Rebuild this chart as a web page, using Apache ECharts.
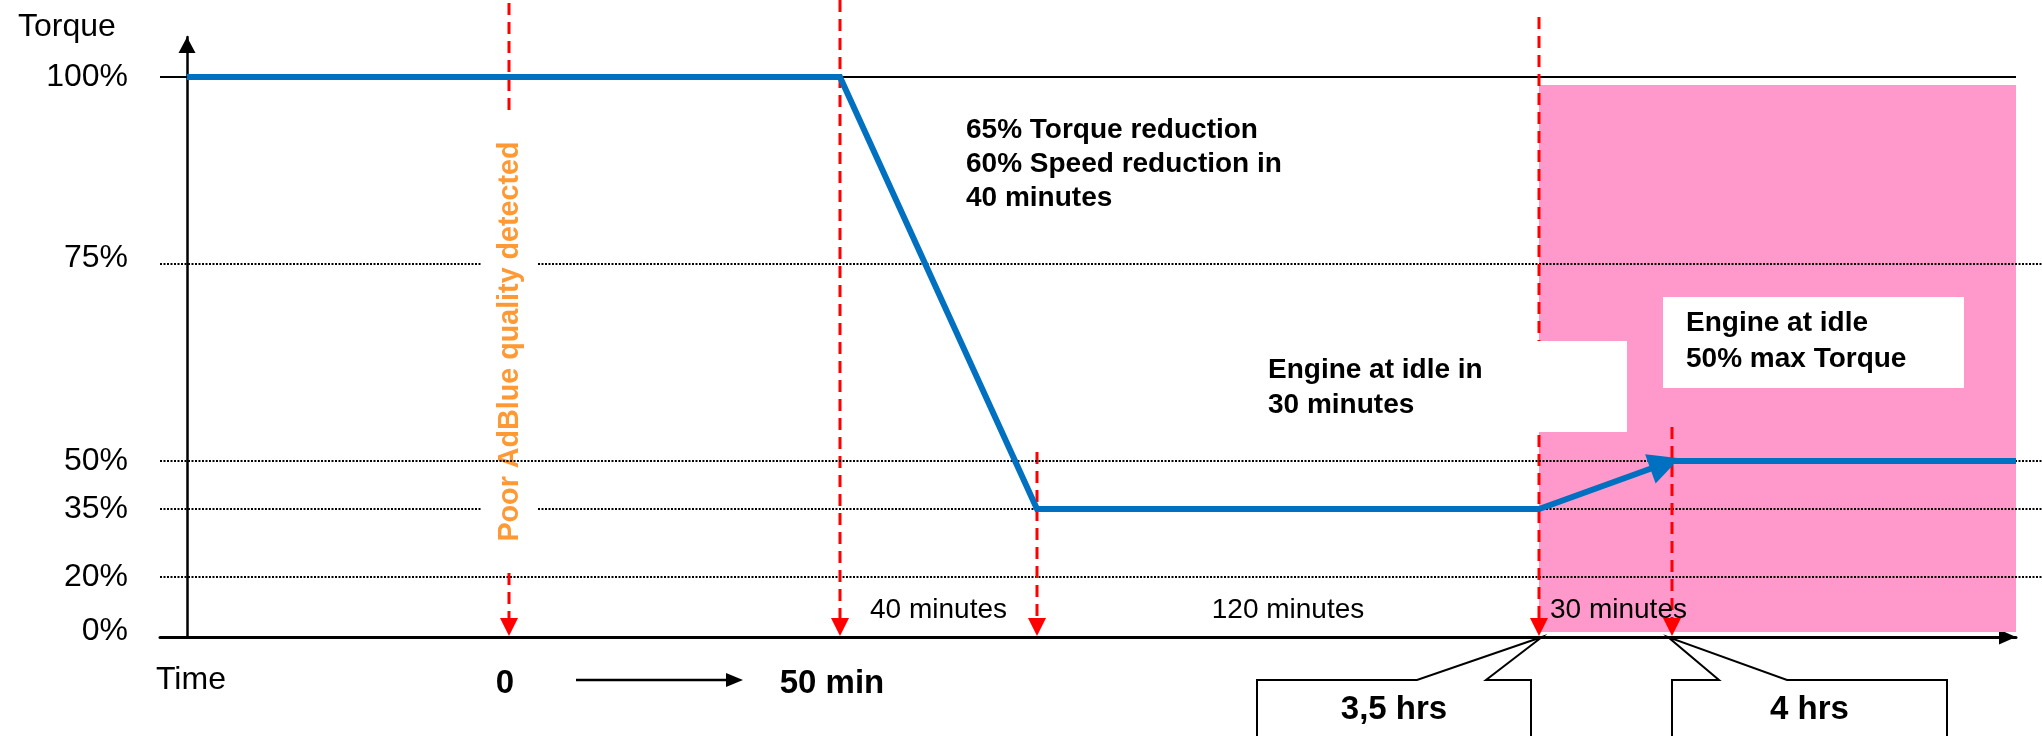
<!DOCTYPE html>
<html>
<head>
<meta charset="utf-8">
<script src="https://cdn.jsdelivr.net/npm/echarts@6/dist/echarts.min.js"></script>
<style>
html,body{margin:0;padding:0;background:#fff;}
#c{width:2042px;height:736px;}
</style>
</head>
<body>
<div id="c"></div>
<script>
// ================= DATA =================
// Torque profile (time in minutes after poor AdBlue detection, torque in % of max)
const profileTime   = [-50, 50, 90, 210, 240, 320];
const profileTorque = [100, 100, 35, 35, 50, 50];
// Arrow of the idle ramp (drawn with an arrow head)
const rampFrom = [210, 35];
const rampTo   = [240, 50];
// Y axis ticks
const yTickValues = [0, 20, 35, 50, 75, 100];
const yTickLabels = ['0%', '20%', '35%', '50%', '75%', '100%'];
const gridLevels  = [20, 35, 50, 75];
const fullTorque  = 100;
// X axis: events (minutes) and labels
const eventTimes  = [0, 50, 90, 210, 240];
const xTickTimes  = [0, 50];
const xTickLabels = ['0', '50 min'];
const durationLabels = ['40 minutes', '120 minutes', '30 minutes'];
const calloutTimes  = [210, 240];
const calloutLabels = ['3,5 hrs', '4 hrs'];
const zoneStart = 210; // pink zone from 3,5 hrs on
// Texts
const axisNameY = 'Torque';
const axisNameX = 'Time';
const adblueText = 'Poor AdBlue quality detected';
const reductionText = ['65% Torque reduction', '60% Speed reduction in', '40 minutes'];
const idleText = ['Engine at idle in', '30 minutes'];
const idle50Text = ['Engine at idle', '50% max Torque'];

// ============ SCHEMATIC (piecewise-linear) SCALES ============
const timeKnots     = [-50, 0, 50, 90, 210, 240, 320];
const timeKnotPos   = [0, 322, 653, 850, 1352, 1485, 1829];
const torqueKnots   = [0, 20, 35, 50, 75, 100];
const torqueKnotPos = [0, 60, 128, 176, 373, 560];

function interp(v, ks, ps) {
  let i = 0;
  if (v >= ks[ks.length - 1]) i = ks.length - 2;
  else if (v > ks[0]) { while (v > ks[i + 1]) i++; }
  return ps[i] + (v - ks[i]) * (ps[i + 1] - ps[i]) / (ks[i + 1] - ks[i]);
}
const tx = t => interp(t, timeKnots, timeKnotPos);
const ty = q => interp(q, torqueKnots, torqueKnotPos);

// ================= STYLE / LAYOUT =================
const FONT = '"Liberation Sans", Arial, Helvetica, sans-serif';
const BLUE = '#0070C0', RED = '#FF0000', PINK = '#FF99CC', ORANGE = '#FF9933';
const X_MIN = -27, X_MAX = 1829, Y_MIN = 0, Y_MAX = 600;
const yLabelNudge = {0: 12, 75: 12};
const markerTop = [{abs: 3}, {abs: 0}, {lvl: 50, dy: -9}, {abs: 17}, {lvl: 50, dy: -34}];
const durationPlace = [{mode: 'mid', a: 1, b: 2}, {mode: 'mid', a: 2, b: 3}, {mode: 'left', a: 3, dx: 11}];
const callouts = [
  {rectL: -285, rectR: -11, w1: -125, w2: -56, tipDx: 3},
  {rectL: 4, rectR: 279, w1: 51, w2: 119, tipDx: -4}
];

function tickLabel(u, vals, fn) {
  for (let i = 0; i < vals.length; i++) if (Math.abs(fn(vals[i]) - u) < 0.5) return i;
  return -1;
}

const chart = echarts.init(document.getElementById('c'), null, {renderer: 'canvas', width: 2042, height: 736});

function txt(x, y, text, size, weight, align, vAlign, extra) {
  return Object.assign({
    type: 'text', x: x, y: y,
    style: {text: text, fill: '#000', fontSize: size, fontWeight: weight, fontFamily: FONT,
            align: align, verticalAlign: vAlign}
  }, extra || {});
}

function renderBack(params, api) {
  const P = (t, q) => api.coord([tx(t), ty(q)]);
  const W = api.getWidth();
  const xLeft = api.coord([X_MIN, 0])[0];
  const xRight = api.coord([X_MAX, 0])[0];
  const y0 = api.coord([0, Y_MIN])[1];
  const y100 = P(0, fullTorque)[1];
  const y50 = P(0, 50)[1];
  const ch = [];
  // pink zone
  const px = P(zoneStart, 0)[0];
  ch.push({type: 'rect', shape: {x: px, y: y100 + 8, width: xRight - px, height: (y0 - 5) - (y100 + 8)}, style: {fill: PINK}});
  // dotted grid lines (except 50 %, drawn above the AdBlue label box)
  const dotted = {stroke: '#000', lineWidth: 2, lineDash: [2, 1.5]};
  gridLevels.filter(l => l !== 50).forEach(l => {
    const y = P(0, l)[1];
    ch.push({type: 'line', shape: {x1: xLeft, y1: y, x2: W, y2: y}, style: dotted});
  });
  // 100 % reference line
  ch.push({type: 'line', shape: {x1: api.coord([0, 0])[0], y1: y100, x2: xRight, y2: y100}, style: {stroke: '#000', lineWidth: 2}});
  // red dashed event markers
  eventTimes.forEach((t, i) => {
    const x = P(t, 0)[0];
    const m = markerTop[i];
    const top = m.abs !== undefined ? m.abs : P(0, m.lvl)[1] + m.dy;
    ch.push({type: 'line', shape: {x1: x, y1: top, x2: x, y2: y0 - 17}, style: {stroke: RED, lineWidth: 3, lineDash: [12, 7]}});
    ch.push({type: 'polygon', shape: {points: [[x - 9, y0 - 19], [x + 9, y0 - 19], [x, y0 - 1]]}, style: {fill: RED}});
  });
  // white label boxes
  const x0 = P(0, 0)[0];
  const y20 = P(0, 20)[1];
  ch.push({type: 'rect', shape: {x: x0 - 28, y: y100 + 39, width: 56, height: (y20 - 10) - (y100 + 39)}, style: {fill: '#fff'}});
  const xi = P(zoneStart, 0)[0] + 88;
  ch.push({type: 'rect', shape: {x: xi - 382, y: y50 - 120, width: 382, height: 91}, style: {fill: '#fff'}});
  const x4 = P(240, 0)[0] - 9;
  ch.push({type: 'rect', shape: {x: x4, y: y50 - 164, width: 301, height: 91}, style: {fill: '#fff'}});
  // vertical AdBlue text
  const adb = txt(x0 + 1, (y100 + 39 + y20 - 10) / 2, adblueText, 28.7, 'bold', 'center', 'middle', {rotation: Math.PI / 2});
  adb.style.fill = ORANGE;
  ch.push(adb);
  // 50 % dotted grid line
  ch.push({type: 'line', shape: {x1: xLeft, y1: y50, x2: W, y2: y50}, style: dotted});
  return {type: 'group', children: ch};
}

function renderFront(params, api) {
  const P = (t, q) => api.coord([tx(t), ty(q)]);
  const xLeft = api.coord([X_MIN, 0])[0];
  const y0 = api.coord([0, Y_MIN])[1];
  const yTop = api.coord([0, Y_MAX])[1];
  const y100 = P(0, fullTorque)[1];
  const y50 = P(0, 50)[1];
  const ch = [];
  // arrow head of the idle ramp
  const a = P(rampFrom[0], rampFrom[1]), b = P(rampTo[0], rampTo[1]);
  const len = Math.hypot(b[0] - a[0], b[1] - a[1]);
  const d = [(b[0] - a[0]) / len, (b[1] - a[1]) / len], n = [-d[1], d[0]];
  const tip = [b[0] + d[0] * 8, b[1] + d[1] * 8];
  const base = [tip[0] - d[0] * 31, tip[1] - d[1] * 31];
  ch.push({type: 'polygon', shape: {points: [tip, [base[0] + n[0] * 15.5, base[1] + n[1] * 15.5], [base[0] - n[0] * 15.5, base[1] - n[1] * 15.5]]}, style: {fill: BLUE}});
  // annotation texts
  const t1 = txt(P(50, 0)[0] + 126, y100 + 36, reductionText.join('\n'), 28, 'bold', 'left', 'top');
  t1.style.lineHeight = 34; ch.push(t1);
  const xi = P(zoneStart, 0)[0] + 88 - 382;
  const t2 = txt(xi + 23, y50 - 108.5, idleText.join('\n'), 28, 'bold', 'left', 'top');
  t2.style.lineHeight = 35; ch.push(t2);
  const x4 = P(240, 0)[0] - 9;
  const t3 = txt(x4 + 23, y50 - 156, idle50Text.join('\n'), 28, 'bold', 'left', 'top');
  t3.style.lineHeight = 36; ch.push(t3);
  // durations between events
  durationLabels.forEach((s, i) => {
    const pl = durationPlace[i];
    if (pl.mode === 'mid') {
      const xm = (P(eventTimes[pl.a], 0)[0] + P(eventTimes[pl.b], 0)[0]) / 2;
      ch.push(txt(xm, y0 - 27, s, 28, 'normal', 'center', 'middle'));
    } else {
      ch.push(txt(P(eventTimes[pl.a], 0)[0] + pl.dx, y0 - 27, s, 28, 'normal', 'left', 'middle'));
    }
  });
  // callouts
  calloutTimes.forEach((t, i) => {
    const c = callouts[i];
    const tp = [P(t, 0)[0] + c.tipDx, y0];
    const top = y0 + 43, bot = y0 + 130;
    ch.push({type: 'polygon', shape: {points: [
      [tp[0] + c.rectL, bot], [tp[0] + c.rectL, top], [tp[0] + c.w1, top], tp,
      [tp[0] + c.w2, top], [tp[0] + c.rectR, top], [tp[0] + c.rectR, bot]]},
      style: {fill: '#fff', stroke: '#000', lineWidth: 2, lineJoin: 'miter'}});
    ch.push(txt(tp[0] + (c.rectL + c.rectR) / 2, y0 + 73, calloutLabels[i], 33, 'bold', 'center', 'middle'));
  });
  // time arrow between "0" and "50 min"
  const ax0 = P(xTickTimes[0], 0)[0] + 67, ax1 = P(xTickTimes[1], 0)[0] - 97, ay = y0 + 43;
  ch.push({type: 'line', shape: {x1: ax0, y1: ay, x2: ax1 - 12, y2: ay}, style: {stroke: '#000', lineWidth: 2.5}});
  ch.push({type: 'polygon', shape: {points: [[ax1 - 17, ay - 7], [ax1, ay], [ax1 - 17, ay + 7]]}, style: {fill: '#000'}});
  // axis names
  ch.push(txt(18, yTop - 9.5, axisNameY, 32, 'normal', 'left', 'middle'));
  ch.push(txt(xLeft - 4, y0 + 43.5, axisNameX, 32, 'normal', 'left', 'middle'));
  return {type: 'group', children: ch};
}

const option = {
  animation: false,
  backgroundColor: '#fff',
  grid: {left: 160, right: 26, top: 37, bottom: 99, containLabel: false, outerBoundsMode: 'none'},
  xAxis: {
    type: 'value', min: X_MIN, max: X_MAX,
    axisLine: {show: true, onZero: true, symbol: ['none', 'triangle'], symbolSize: [15, 17], symbolOffset: [0, -8.5],
               lineStyle: {color: '#000', width: 3}},
    axisTick: {show: false},
    splitLine: {show: false},
    axisLabel: {
      show: true, customValues: xTickTimes.map(tx), margin: 30,
      formatter: u => {
        const i = tickLabel(u, xTickTimes, tx);
        return i < 0 ? '' : '{l' + i + '|' + xTickLabels[i] + '}';
      },
      rich: {
        l0: {fontFamily: FONT, fontSize: 33, fontWeight: 'bold', color: '#000', padding: [0, 8, 0, 0]},
        l1: {fontFamily: FONT, fontSize: 33, fontWeight: 'bold', color: '#000', padding: [0, 16, 0, 0]}
      }
    }
  },
  yAxis: {
    type: 'value', min: Y_MIN, max: Y_MAX,
    axisLine: {show: true, onZero: true, symbol: ['none', 'triangle'], symbolSize: [17, 16], symbolOffset: [0, -8],
               lineStyle: {color: '#000', width: 2.5}},
    axisTick: {show: true, customValues: [ty(fullTorque)], length: 27, inside: false, lineStyle: {color: '#000', width: 2}},
    splitLine: {show: false},
    axisLabel: {
      show: true, customValues: yTickValues.map(ty), margin: 32,
      formatter: u => {
        const i = tickLabel(u, yTickValues, ty);
        if (i < 0) return '';
        return yLabelNudge[yTickValues[i]] ? '{up|' + yTickLabels[i] + '}' : '{n|' + yTickLabels[i] + '}';
      },
      rich: {
        n: {fontFamily: FONT, fontSize: 32, color: '#000'},
        up: {fontFamily: FONT, fontSize: 32, color: '#000', padding: [0, 0, 12, 0]}
      }
    }
  },
  series: [
    {type: 'custom', coordinateSystem: 'cartesian2d', data: [[0, 0]], renderItem: renderBack, clip: false, silent: true, z: 1},
    {type: 'line', data: profileTime.map((t, i) => [tx(t), ty(profileTorque[i])]), symbol: 'none', silent: true, z: 3,
     lineStyle: {color: BLUE, width: 6, join: 'miter', cap: 'butt'}},
    {type: 'custom', coordinateSystem: 'cartesian2d', data: [[0, 0]], renderItem: renderFront, clip: false, silent: true, z: 4}
  ]
};
chart.setOption(option);
</script>
</body>
</html>
